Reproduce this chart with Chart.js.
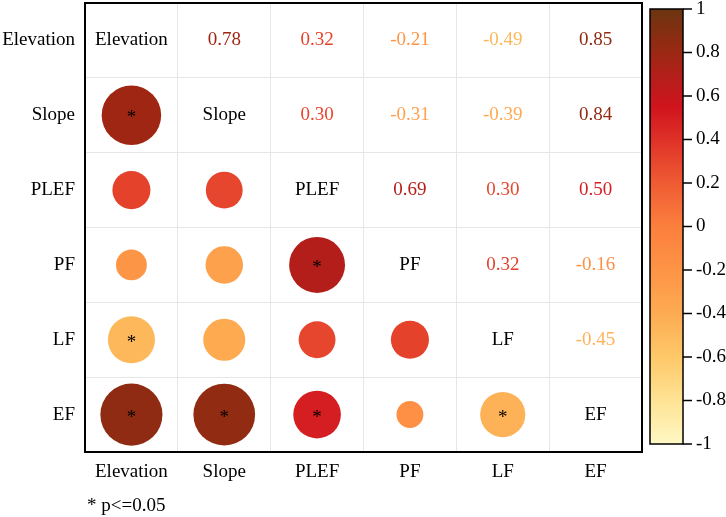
<!DOCTYPE html>
<html lang="en">
<head>
  <meta charset="UTF-8">
  <title>Correlation matrix</title>
  <script src="https://cdn.jsdelivr.net/npm/chart.js"></script>
  <style>
    html, body { margin: 0; padding: 0; background: #fff; }
    #wrap { width: 726px; height: 517px; }
  </style>
</head>
<body>
  <div id="wrap"><canvas id="corrChart"></canvas></div>
  <script>
    // variables and correlation values
    const vars = ['Elevation', 'Slope', 'PLEF', 'PF', 'LF', 'EF'];
    const corr = [
      [1.00, 0.78, 0.32, -0.21, -0.49, 0.85],
      [0.78, 1.00, 0.30, -0.31, -0.39, 0.84],
      [0.32, 0.30, 1.00, 0.69, 0.30, 0.50],
      [-0.21, -0.31, 0.69, 1.00, 0.32, -0.16],
      [-0.49, -0.39, 0.30, 0.32, 1.00, -0.45],
      [0.85, 0.84, 0.50, -0.16, -0.45, 1.00]
    ];
    // 1 = p<=0.05 (lower triangle)
    const sig = [
      [0, 0, 0, 0, 0, 0],
      [1, 0, 0, 0, 0, 0],
      [0, 0, 0, 0, 0, 0],
      [0, 0, 1, 0, 0, 0],
      [1, 0, 0, 0, 0, 0],
      [1, 1, 1, 0, 1, 0]
    ];
    const barTicks = [1, 0.8, 0.6, 0.4, 0.2, 0, -0.2, -0.4, -0.6, -0.8, -1];
    const barTickLabels = ['1', '0.8', '0.6', '0.4', '0.2', '0', '-0.2', '-0.4', '-0.6', '-0.8', '-1'];
    const note = '* p<=0.05';

    const colorStops = [
      [-1, '#FFF8C4'], [-0.8, '#FEE394'], [-0.6, '#FEC869'], [-0.4, '#FDAB52'],
      [-0.2, '#FD9446'], [0, '#FC7F3D'], [0.2, '#EF5B33'], [0.4, '#DF3128'],
      [0.55, '#D0141D'], [0.7, '#B21F1A'], [0.8, '#9B2813'], [1, '#6B3510']
    ];
    const FONT = '"Liberation Serif", "Times New Roman", serif';

    function hex2rgb(h) {
      return [parseInt(h.slice(1, 3), 16), parseInt(h.slice(3, 5), 16), parseInt(h.slice(5, 7), 16)];
    }
    function colorFor(v) {
      for (let i = 1; i < colorStops.length; i++) {
        const [v1, c1] = colorStops[i];
        const [v0, c0] = colorStops[i - 1];
        if (v <= v1) {
          const t = (v - v0) / (v1 - v0);
          const a = hex2rgb(c0), b = hex2rgb(c1);
          const m = a.map((x, k) => Math.round(x + (b[k] - x) * t));
          return 'rgb(' + m.join(',') + ')';
        }
      }
      return colorStops[colorStops.length - 1][1];
    }

    // lower triangle circles
    const points = [];
    for (let i = 0; i < vars.length; i++) {
      for (let j = 0; j < i; j++) {
        points.push({ x: vars[j], y: vars[i], v: corr[i][j], s: sig[i][j] });
      }
    }

    function cellSize(chart) {
      const s = chart.scales.y;
      if (!s) return 75;
      return Math.abs(s.getPixelForValue(1) - s.getPixelForValue(0));
    }

    const matrixText = {
      id: 'matrixText',
      afterDatasetsDraw(chart) {
        const { ctx, scales: { x, y } } = chart;
        ctx.save();
        ctx.textAlign = 'center';
        ctx.textBaseline = 'middle';
        for (let i = 0; i < vars.length; i++) {
          for (let j = 0; j < vars.length; j++) {
            const px = x.getPixelForValue(j), py = y.getPixelForValue(i);
            if (i === j) {
              ctx.font = '19px ' + FONT;
              ctx.fillStyle = '#000';
              ctx.fillText(vars[i], px, py);
            } else if (j > i) {
              ctx.font = '19px ' + FONT;
              ctx.fillStyle = colorFor(corr[i][j]);
              ctx.fillText(corr[i][j].toFixed(2), px, py);
            } else if (sig[i][j]) {
              ctx.font = '19px ' + FONT;
              ctx.fillStyle = '#000';
              ctx.fillText('*', px, py + 3);
            }
          }
        }
        ctx.restore();
      },
      afterDraw(chart) {
        const { ctx, chartArea: a } = chart;
        ctx.save();
        // frame
        ctx.strokeStyle = '#000';
        ctx.lineWidth = 2;
        ctx.strokeRect(a.left, a.top, a.right - a.left, a.bottom - a.top);
        // colour bar
        const bx = a.right + 8, bw = 33, by = a.top + 6, bh = a.bottom - a.top - 14;
        const grad = ctx.createLinearGradient(0, by + bh, 0, by);
        colorStops.forEach(([v, c]) => grad.addColorStop((v + 1) / 2, c));
        ctx.fillStyle = grad;
        ctx.fillRect(bx, by, bw, bh);
        ctx.lineWidth = 1.5;
        ctx.strokeRect(bx, by, bw, bh);
        ctx.font = '19px ' + FONT;
        ctx.fillStyle = '#000';
        ctx.textAlign = 'left';
        ctx.textBaseline = 'middle';
        barTicks.forEach((v, k) => {
          const ty = by + (1 - v) / 2 * bh;
          ctx.beginPath();
          ctx.moveTo(bx + bw, ty);
          ctx.lineTo(bx + bw + 9, ty);
          ctx.stroke();
          ctx.fillText(barTickLabels[k], bx + bw + 13, ty);
        });
        // footnote
        ctx.fillText(note, a.left + 2, a.bottom + 54);
        ctx.restore();
      }
    };

    new Chart(document.getElementById('corrChart'), {
      type: 'scatter',
      data: {
        datasets: [{
          data: points,
          pointRadius: c => Math.sqrt(Math.abs(c.raw.v)) * 0.45 * cellSize(c.chart),
          pointHoverRadius: c => Math.sqrt(Math.abs(c.raw.v)) * 0.45 * cellSize(c.chart),
          pointBackgroundColor: c => colorFor(c.raw.v),
          pointBorderWidth: 0,
          pointBorderColor: 'rgba(0,0,0,0)'
        }]
      },
      plugins: [matrixText],
      options: {
        responsive: true,
        maintainAspectRatio: false,
        animation: false,
        events: [],
        layout: { padding: { top: 3, right: 84, left: 0, bottom: 0 } },
        plugins: { legend: { display: false }, tooltip: { enabled: false } },
        scales: {
          x: {
            type: 'category',
            labels: vars,
            offset: true,
            grid: { offset: true, color: '#e6e6e6', lineWidth: 1, drawTicks: false },
            border: { display: false },
            ticks: { color: '#000', padding: 9, font: { family: FONT, size: 19 } },
            afterFit: s => { s.height = 65; s.paddingLeft = 0; s.paddingRight = 0; }
          },
          y: {
            type: 'category',
            labels: vars,
            offset: true,
            grid: { offset: true, color: '#e6e6e6', lineWidth: 1, drawTicks: false },
            border: { display: false },
            ticks: { color: '#000', padding: 10, font: { family: FONT, size: 19 } },
            afterFit: s => { s.width = 85; s.paddingTop = 0; s.paddingBottom = 0; }
          }
        }
      }
    });
  </script>
</body>
</html>
